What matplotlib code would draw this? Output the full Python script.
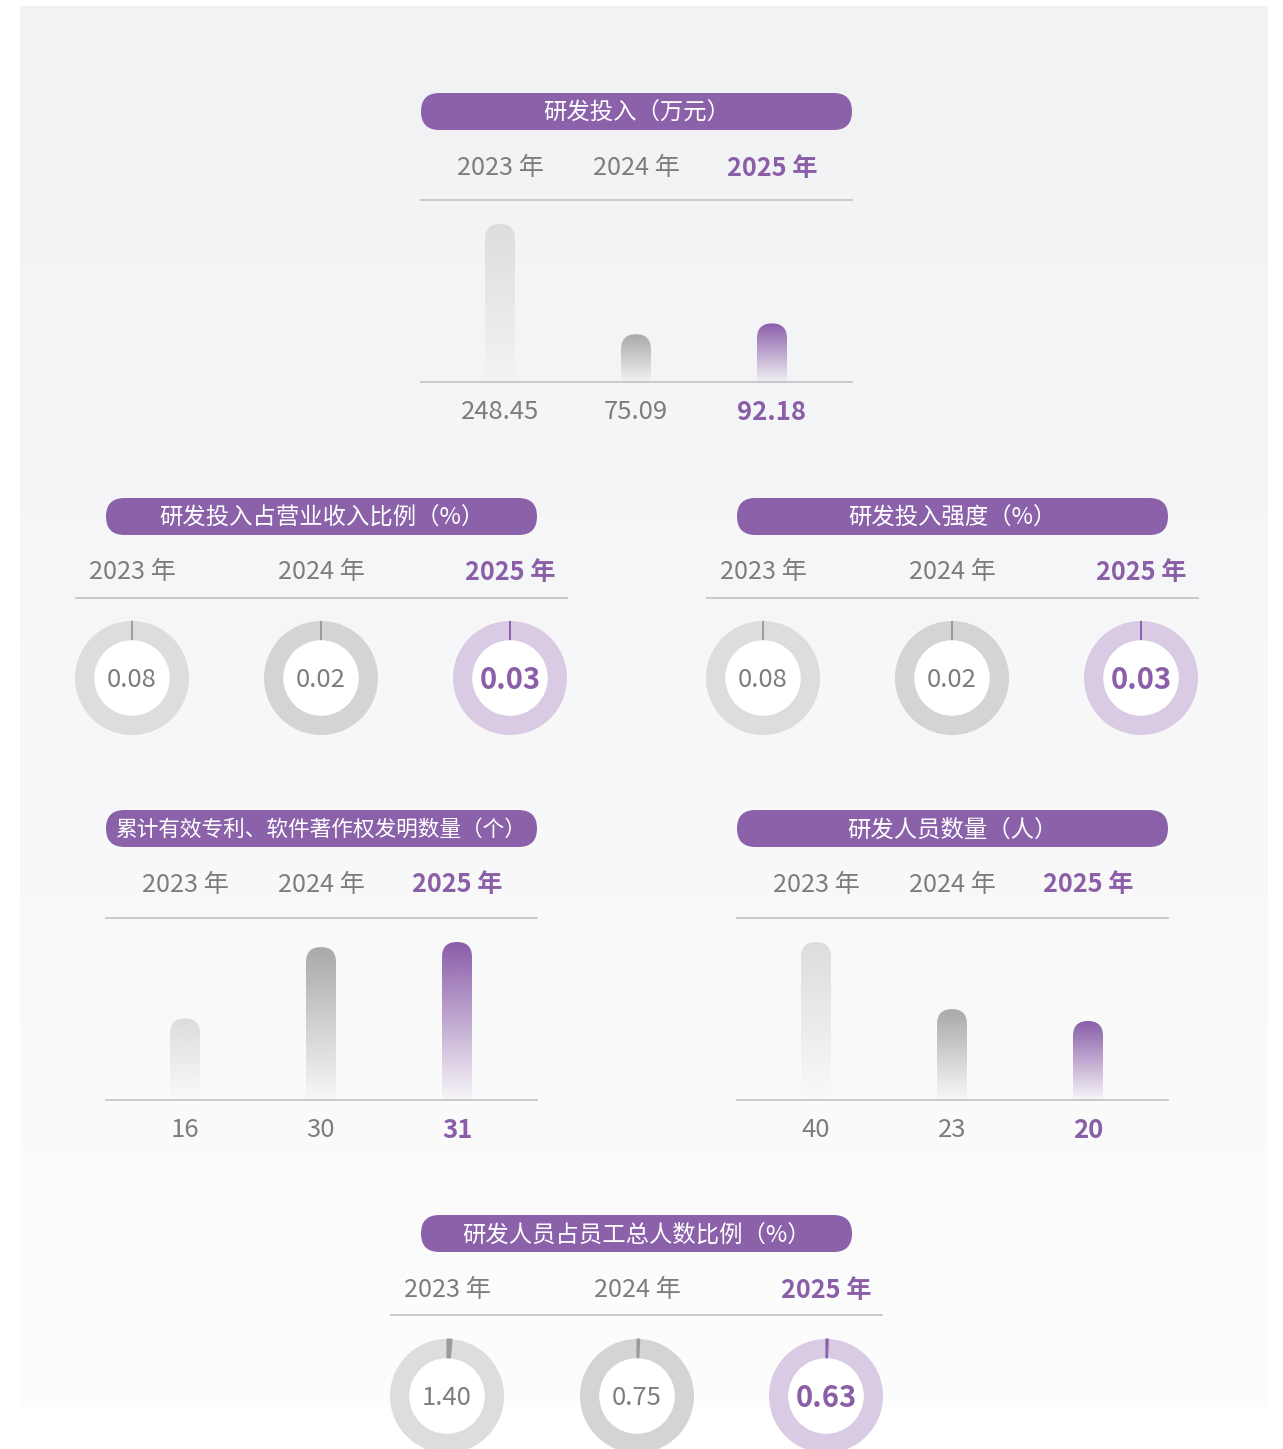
import numpy as np
import matplotlib
matplotlib.use("Agg")
import matplotlib.pyplot as plt
from matplotlib.patches import FancyBboxPatch, Circle
from matplotlib.colors import to_rgb

plt.rcParams['font.family'] = ['Noto Sans CJK SC', 'DejaVu Sans']

# data
years = ['2023 年', '2024 年', '2025 年']
rd_invest = [248.45, 75.09, 92.18]          # 研发投入（万元）
rd_revenue_ratio = [0.08, 0.02, 0.03]       # 研发投入占营业收入比例（%）
rd_intensity = [0.08, 0.02, 0.03]           # 研发投入强度（%）
patents = [16, 30, 31]                      # 累计有效专利、软件著作权发明数量（个）
rd_staff = [40, 23, 20]                     # 研发人员数量（人）
rd_staff_ratio = [1.40, 0.75, 0.63]         # 研发人员占员工总人数比例（%）

W, H = 1283, 1449
PURPLE = '#8b62aa'
PURPLE_TXT = '#8b5ea8'
GRAY_TXT = '#7d7d7d'
LINE = '#c6c6c8'
FONT = ['Noto Sans CJK SC', 'DejaVu Sans']

fig = plt.figure(figsize=(W / 100, H / 100), dpi=100)
fig.patch.set_facecolor('white')

bg = fig.add_axes([0, 0, 1, 1])
bg.axis('off')
top_c = np.array(to_rgb('#f1f2f4'))
bot_c = np.array(to_rgb('#fdfdfd'))
t = np.linspace(0, 1, 256)[:, None, None]
grad = top_c * (1 - t) + bot_c * t
bg.imshow(grad, extent=(20, 1268, 1408, 6), aspect='auto', zorder=0)
bg.set_xlim(0, W)
bg.set_ylim(H, 0)


def px_axes(x0, y0, x1, y1):
    ax = fig.add_axes([x0 / W, 1 - y1 / H, (x1 - x0) / W, (y1 - y0) / H])
    ax.patch.set_alpha(0)
    return ax


def header(cx, cy, title, ycols, year_y, line_y, line_x0, line_x1, tsize=16.8):
    pill = FancyBboxPatch((cx - 215.5, cy - 18.5), 431, 37,
                          boxstyle="round,pad=0,rounding_size=18.5",
                          facecolor=PURPLE, edgecolor='none', zorder=2)
    bg.add_patch(pill)
    bg.text(cx, cy + 1.5, title, ha='center', va='center', color='white',
            fontsize=tsize, fontweight='medium', family=FONT, zorder=3)
    for i, (x, yr) in enumerate(zip(ycols, years)):
        last = i == len(years) - 1
        bg.text(x, year_y + 2, yr, ha='center', va='center',
                color=PURPLE_TXT if last else GRAY_TXT,
                fontsize=18.2, fontweight='bold' if last else 'normal',
                family=FONT, zorder=3)
    bg.plot([line_x0, line_x1], [line_y, line_y], color=LINE, lw=1.3, zorder=2)


def bar_panel(left, top_y, base_y, values, labels):
    width_px = 431
    spacing, off = 136, 79
    ax = px_axes(left, top_y, left + width_px, base_y)
    ax.axis('off')
    ymax = max(values) * (base_y - top_y) / 158
    xpp = 1 / spacing
    ypp = ymax / (base_y - top_y)
    w = 30 * xpp
    tops = ['#dcdddf', '#a8a9ab', '#8a5da9']
    for i, v in enumerate(values):
        r_y = 15 * ypp
        patch = FancyBboxPatch((i - w / 2, -2 * r_y), w, v + 2 * r_y,
                               boxstyle=f"round,pad=0,rounding_size={w / 2}",
                               mutation_aspect=ypp / xpp,
                               facecolor='none', edgecolor='none')
        ax.add_patch(patch)
        c = np.array(to_rgb(tops[i]))
        a = np.linspace(1, 0.03, 256)
        img = np.zeros((256, 1, 4))
        img[:, 0, :3] = c
        img[:, 0, 3] = a
        im = ax.imshow(img, extent=(i - w / 2, i + w / 2, 0, v),
                       aspect='auto', origin='upper', interpolation='bilinear')
        im.set_clip_path(patch)
    ax.set_xlim(-off / spacing, (width_px - off) / spacing)
    ax.set_ylim(0, ymax)
    bg.plot([left, left + width_px], [base_y, base_y], color=LINE, lw=1.3, zorder=2)
    for i, lab in enumerate(labels):
        last = i == len(labels) - 1
        bg.text(left + off + i * spacing, base_y + 30, lab, ha='center', va='center',
                color=PURPLE_TXT if last else GRAY_TXT,
                fontsize=18.5, fontweight='bold' if last else 'normal',
                family=FONT, zorder=3)


def donut(cx, cy, v, idx):
    rings = ['#dcdddf', '#d3d4d6', '#d8cbe3']
    marks = ['#9a9a9a', '#9a9a9a', PURPLE]
    ax = px_axes(cx - 57, cy - 57, cx + 57, cy + 57)
    wedges, _ = ax.pie([v, 100 - v], colors=[marks[idx], rings[idx]],
                       startangle=90, counterclock=False, radius=1,
                       wedgeprops=dict(width=0.34, linewidth=0))
    wedges[0].set_edgecolor(marks[idx])
    wedges[0].set_linewidth(0.8)
    wedges[0].set_zorder(3)
    ax.add_patch(Circle((0, 0), 0.66, facecolor='white', edgecolor='none', zorder=4))
    last = idx == 2
    ax.text(0, -0.03, f'{v:.2f}', ha='center', va='center',
            color=PURPLE_TXT if last else GRAY_TXT,
            fontsize=21 if last else 18.5,
            fontweight='bold' if last else 'normal', family=FONT, zorder=5)
    ax.set_xlim(-1, 1)
    ax.set_ylim(-1, 1)
    ax.set_aspect('equal')
    ax.axis('off')


# 研发投入
header(636.5, 111.5, '研发投入（万元）', [500, 636, 772], 166, 200, 421, 852)
bar_panel(421, 200, 382, rd_invest, [f'{v:.2f}' for v in rd_invest])

# 研发投入占营业收入比例
header(321.5, 516.5, '研发投入占营业收入比例（%）', [132, 321, 510], 570, 598, 76, 567)
for i, (x, v) in enumerate(zip([132, 321, 510], rd_revenue_ratio)):
    donut(x, 678, v, i)

# 研发投入强度
header(952.5, 516.5, '研发投入强度（%）', [763, 952, 1141], 570, 598, 707, 1198)
for i, (x, v) in enumerate(zip([763, 952, 1141], rd_intensity)):
    donut(x, 678, v, i)

# 专利
header(321.5, 828.5, '累计有效专利、软件著作权发明数量（个）', [185, 321, 457], 883, 918, 106, 537,
       tsize=15.6)
bar_panel(106, 918, 1100, patents, [str(v) for v in patents])

# 研发人员数量
header(952.5, 828.5, '研发人员数量（人）', [816, 952, 1088], 883, 918, 737, 1168)
bar_panel(737, 918, 1100, rd_staff, [str(v) for v in rd_staff])

# 研发人员占比
header(636.5, 1233.5, '研发人员占员工总人数比例（%）', [447, 637, 826], 1288, 1315, 391, 882)
for i, (x, v) in enumerate(zip([447, 637, 826], rd_staff_ratio)):
    donut(x, 1396, v, i)

fig.savefig('out.png', dpi=100, facecolor='white')
